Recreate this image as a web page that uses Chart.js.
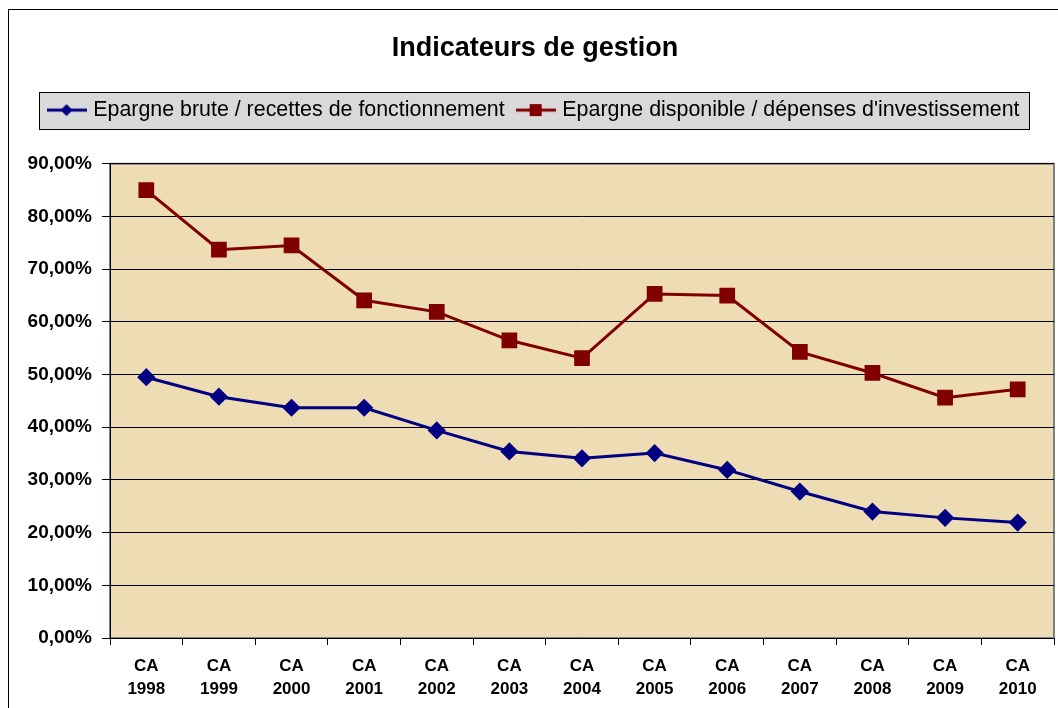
<!DOCTYPE html>
<html lang="fr">
<head>
  <meta charset="UTF-8">
  <title>Indicateurs de gestion</title>
  <script src="https://cdn.jsdelivr.net/npm/chart.js"></script>
  <style>
    html, body {
      margin: 0;
      padding: 0;
      background: #fff;
    }
    .chart-container {
      width: 1058px;
      height: 708px;
    }
  </style>
</head>
<body>
  <div class="chart-container">
    <canvas id="gestionChart"></canvas>
  </div>

  <script>
    const years = ["1998", "1999", "2000", "2001", "2002", "2003", "2004", "2005", "2006", "2007", "2008", "2009", "2010"];
    const categories = years.map(y => ["CA", y]);

    const epargneBrute = [49.5, 45.8, 43.7, 43.7, 39.4, 35.4, 34.1, 35.1, 31.9, 27.8, 24.0, 22.8, 21.9];
    const epargneDisponible = [85.0, 73.7, 74.5, 64.1, 61.9, 56.5, 53.1, 65.3, 65.0, 54.3, 50.3, 45.6, 47.2];

    const seriesNames = [
      "Epargne brute / recettes de fonctionnement",
      "Epargne disponible / dépenses d'investissement"
    ];

    const BLUE = "#000080";
    const RED = "#800000";
    const FONT = "'Liberation Sans', Arial, sans-serif";

    // small line + marker picture for the legend
    function legendMarker(color, shape) {
      const c = document.createElement("canvas");
      c.width = 40;
      c.height = 16;
      const g = c.getContext("2d");
      g.strokeStyle = color;
      g.lineWidth = 3;
      g.beginPath();
      g.moveTo(0, 8);
      g.lineTo(40, 8);
      g.stroke();
      g.fillStyle = color;
      if (shape === "diamond") {
        g.beginPath();
        g.moveTo(20, 2);
        g.lineTo(26, 8);
        g.lineTo(20, 14);
        g.lineTo(14, 8);
        g.closePath();
        g.fill();
      } else {
        g.fillRect(14, 2, 12, 12);
      }
      return c;
    }
    const legendPics = [legendMarker(BLUE, "diamond"), legendMarker(RED, "square")];

    const frame = {
      id: "frame",
      beforeDraw(chart) {
        const ctx = chart.ctx;
        const a = chart.chartArea;
        ctx.save();
        // outer border
        ctx.strokeStyle = "#000";
        ctx.lineWidth = 1;
        ctx.strokeRect(8.5, 9.5, 1060, 720);
        // legend box
        const boxes = chart.legend.legendHitBoxes;
        if (boxes && boxes.length) {
          const first = boxes[0];
          const last = boxes[boxes.length - 1];
          const x0 = Math.round(first.left - 12);
          const x1 = Math.round(last.left + last.width + 10);
          const yc = Math.round(first.top + first.height / 2);
          ctx.fillStyle = "#d9d9d9";
          ctx.fillRect(x0, yc - 18, x1 - x0, 37);
          ctx.strokeStyle = "#000";
          ctx.strokeRect(x0 + 0.5, yc - 18 + 0.5, x1 - x0, 37);
        }
        // plot area
        ctx.fillStyle = "#eedcb5";
        ctx.fillRect(a.left, a.top, a.right - a.left, a.bottom - a.top);
        ctx.strokeStyle = "#808080";
        ctx.lineWidth = 2;
        ctx.strokeRect(a.left, a.top, a.right - a.left, a.bottom - a.top);
        ctx.restore();
      }
    };

    const ctx = document.getElementById("gestionChart").getContext("2d");
    new Chart(ctx, {
      type: "line",
      data: {
        labels: categories,
        datasets: [
          {
            label: seriesNames[0],
            data: epargneBrute,
            borderColor: BLUE,
            backgroundColor: BLUE,
            borderWidth: 3,
            pointStyle: "rectRot",
            pointRadius: 7,
            pointHoverRadius: 7,
            tension: 0
          },
          {
            label: seriesNames[1],
            data: epargneDisponible,
            borderColor: RED,
            backgroundColor: RED,
            borderWidth: 3,
            pointStyle: "rect",
            pointRadius: 9,
            pointHoverRadius: 9,
            tension: 0
          }
        ]
      },
      options: {
        responsive: true,
        maintainAspectRatio: false,
        animation: false,
        devicePixelRatio: 1,
        layout: {
          autoPadding: false,
          padding: { left: 16, right: 4, top: 0, bottom: 0 }
        },
        plugins: {
          title: {
            display: true,
            text: "Indicateurs de gestion",
            color: "#000",
            font: { family: FONT, size: 27, weight: "bold" },
            padding: { top: 32, bottom: 20 }
          },
          // empty spacer between the legend and the plot
          subtitle: {
            display: true,
            text: "",
            weight: 500,
            font: { size: 10, lineHeight: 1 },
            padding: { top: 0, bottom: 23 }
          },
          legend: {
            display: true,
            labels: {
              color: "#000",
              font: { family: FONT, size: 21.4 },
              usePointStyle: true,
              pointStyleWidth: 32,
              padding: 15,
              generateLabels(chart) {
                const items = Chart.defaults.plugins.legend.labels.generateLabels(chart);
                items.forEach((it, i) => { it.pointStyle = legendPics[i]; });
                return items;
              }
            }
          },
          tooltip: { enabled: false }
        },
        scales: {
          x: {
            offset: true,
            grid: {
              display: true,
              offset: true,
              drawOnChartArea: false,
              color: "#000",
              tickLength: 7
            },
            border: { color: "#000", width: 1 },
            ticks: {
              color: "#000",
              font: { family: FONT, size: 17, weight: "bold", lineHeight: 1.35 },
              padding: 10,
              maxRotation: 0,
              autoSkip: false
            },
            afterFit(scale) {
              scale.height = 70;
              scale.paddingLeft = 0;
              scale.paddingRight = 0;
            }
          },
          y: {
            min: 0,
            max: 90,
            grid: {
              color: "#000",
              lineWidth: 1,
              tickLength: 8
            },
            border: { color: "#000", width: 1 },
            ticks: {
              stepSize: 10,
              color: "#000",
              padding: 10,
              font: { family: FONT, size: 19, weight: "bold" },
              callback: v => v.toFixed(2).replace(".", ",") + "%"
            },
            afterFit(scale) { scale.width = 94; }
          }
        }
      },
      plugins: [frame]
    });
  </script>
</body>
</html>
